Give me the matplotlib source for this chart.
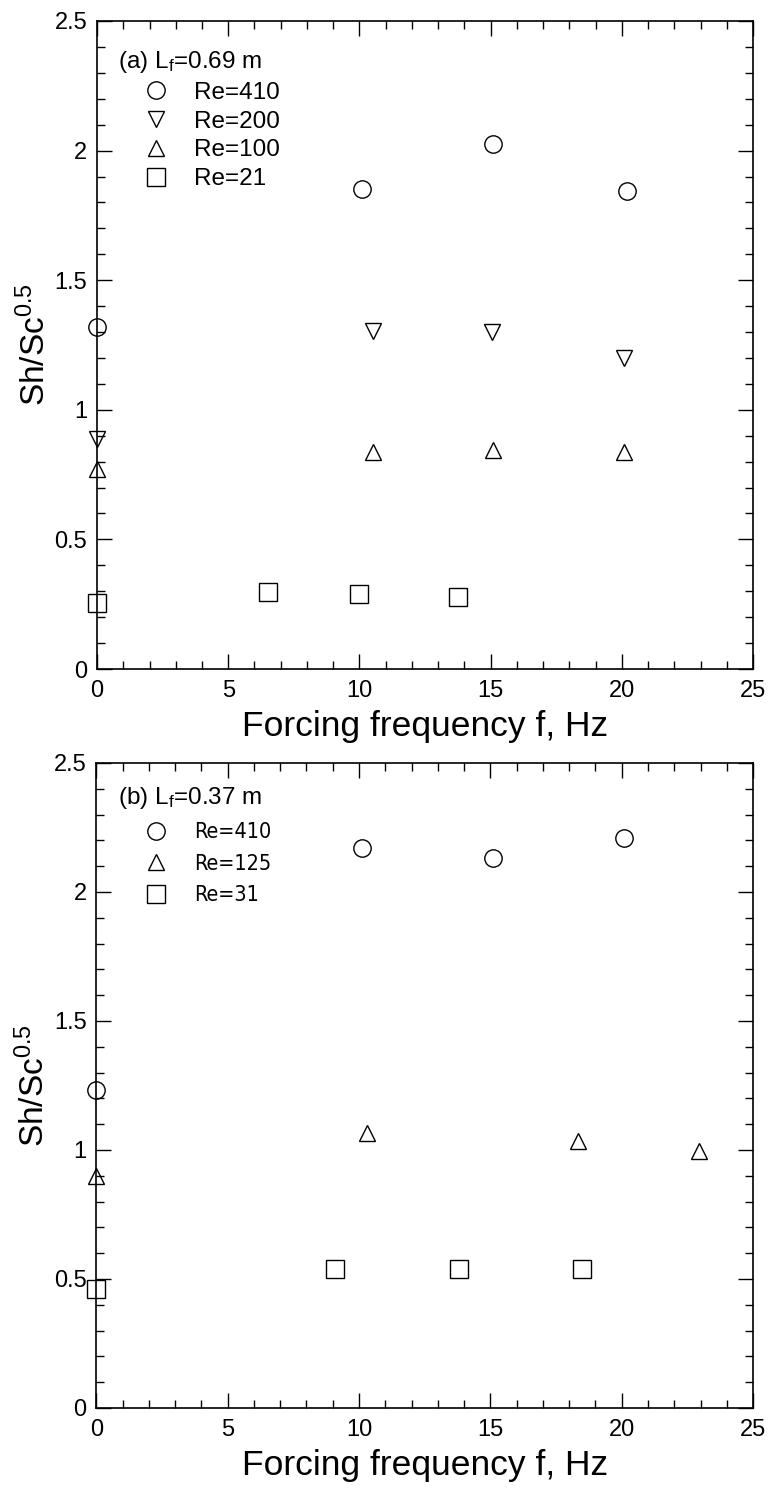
import matplotlib
matplotlib.use('Agg')
import matplotlib.pyplot as plt
from matplotlib.ticker import MultipleLocator

matplotlib.rcParams.update({'font.family': ['Liberation Sans', 'DejaVu Sans'],
                            'mathtext.fontset': 'custom',
                            'mathtext.rm': 'Liberation Sans',
                            'mathtext.it': 'Liberation Sans'})

# panel (a), L_f = 0.69 m
a_f410 = [0.0, 10.1, 15.1, 20.2]
a_sh410 = [1.32, 1.85, 2.025, 1.845]
a_f200 = [0.0, 10.5, 15.05, 20.1]
a_sh200 = [0.887, 1.305, 1.30, 1.20]
a_f100 = [0.0, 10.5, 15.1, 20.1]
a_sh100 = [0.772, 0.838, 0.845, 0.838]
a_f21 = [0.0, 6.5, 10.0, 13.75]
a_sh21 = [0.256, 0.298, 0.289, 0.279]

# panel (b), L_f = 0.37 m
b_f410 = [0.0, 10.1, 15.1, 20.1]
b_sh410 = [1.233, 2.172, 2.133, 2.209]
b_f125 = [0.0, 10.3, 18.35, 22.95]
b_sh125 = [0.90, 1.066, 1.035, 0.997]
b_f31 = [0.0, 9.1, 13.8, 18.5]
b_sh31 = [0.462, 0.537, 0.539, 0.539]

fig = plt.figure(figsize=(7.7, 14.89), dpi=100)
ax1 = fig.add_axes([0.126, 0.5507, 0.852, 0.4352])
ax2 = fig.add_axes([0.125, 0.0544, 0.853, 0.4332])

def style(ax):
    ax.set_xlim(0, 25)
    ax.set_ylim(0, 2.5)
    ax.xaxis.set_major_locator(MultipleLocator(5))
    ax.xaxis.set_minor_locator(MultipleLocator(1))
    ax.yaxis.set_major_locator(MultipleLocator(0.5))
    ax.yaxis.set_minor_locator(MultipleLocator(0.1))
    ax.set_yticks([0, 0.5, 1, 1.5, 2, 2.5])
    ax.set_yticklabels(['0', '0.5', '1', '1.5', '2', '2.5'])
    ax.tick_params(which='both', direction='in', top=True, right=True, width=1.0)
    ax.tick_params(which='major', length=11, labelsize=17)
    ax.tick_params(axis='x', which='major', pad=8)
    ax.tick_params(axis='y', which='major', pad=7)
    ax.tick_params(which='minor', length=6)
    for s in ax.spines.values():
        s.set_linewidth(1.2)
    ax.set_xlabel('Forcing frequency f, Hz', fontsize=25.5, labelpad=6)
    ax.set_ylabel('Sh/Sc$^{0.5}$', fontsize=24, labelpad=2)

mk = dict(linestyle='none', markerfacecolor='none', markeredgecolor='black',
          markeredgewidth=1.0, clip_on=False)

ax1.plot(a_f410, a_sh410, marker='o', markersize=12.5, label='Re=410', **mk)
ax1.plot(a_f200, a_sh200, marker='v', markersize=12, label='Re=200', **mk)
ax1.plot(a_f100, a_sh100, marker='^', markersize=12, label='Re=100', **mk)
ax1.plot(a_f21, a_sh21, marker='s', markersize=13, label='Re=21', **mk)
style(ax1)
ax1.legend(title='(a) L$_\\mathrm{f}$=0.69 m', loc='upper left', frameon=False,
           bbox_to_anchor=(-0.0107, 1.0),
           fontsize=17.5, title_fontsize=17.5, alignment='left',
           handletextpad=0.0, labelspacing=0.28, borderaxespad=0.55,
           handlelength=3.13, borderpad=0.6)

ax2.plot(b_f410, b_sh410, marker='o', markersize=12.5, label='Re=410', **mk)
ax2.plot(b_f125, b_sh125, marker='^', markersize=12, label='Re=125', **mk)
ax2.plot(b_f31, b_sh31, marker='s', markersize=13, label='Re=31', **mk)
style(ax2)
ax2.legend(title='(b) L$_\\mathrm{f}$=0.37 m', loc='upper left', frameon=False,
           bbox_to_anchor=(-0.0046, 1.0043),
           title_fontsize=17.5, alignment='left',
           handletextpad=0.0, labelspacing=0.53, borderaxespad=0.55,
           handlelength=3.55, borderpad=0.6,
           prop={'family': 'DejaVu Sans', 'stretch': 'condensed', 'size': 15.5})

fig.savefig('out.png', dpi=100)
